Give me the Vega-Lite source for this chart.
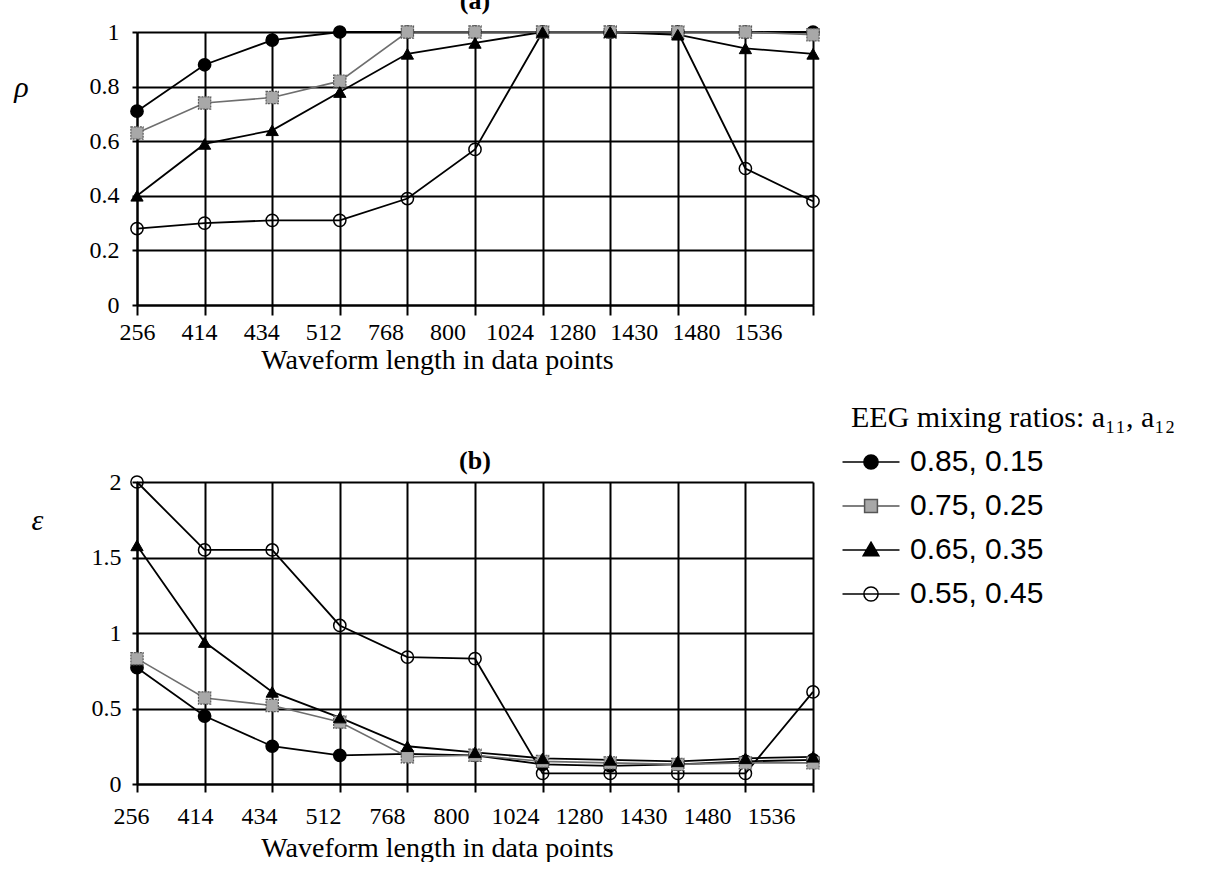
{
  "$schema": "https://vega.github.io/schema/vega-lite/v6.json",
  "background": "white",
  "padding": {"left": 13, "top": -12, "right": 360, "bottom": 0},
  "spacing": 74,
  "config": {
    "view": {"stroke": null},
    "font": "Liberation Serif",
    "axis": {
      "domainColor": "black", "domainWidth": 2,
      "gridColor": "black", "gridWidth": 2, "gridOpacity": 1,
      "tickColor": "black", "tickWidth": 2,
      "labelColor": "black", "titleColor": "black",
      "labelFont": "Liberation Serif", "titleFont": "Liberation Serif",
      "labelFontSize": 24, "titleFontWeight": "normal", "titleFontSize": 28,
      "labelOverlap": false
    },
    "title": {"font": "Liberation Serif", "fontSize": 26, "fontWeight": "bold", "color": "black"},
    "legend": {
      "orient": "none", "legendX": 714, "legendY": 371,
      "titleFont": "Liberation Serif", "titleFontSize": 30, "titleFontWeight": "normal", "titleColor": "black", "titlePadding": 14, "titleLimit": 500,
      "labelFont": "Liberation Sans", "labelFontSize": 30, "labelColor": "black", "labelOffset": 24,
      "symbolSize": 812, "symbolOffset": 5, "symbolOpacity": 1, "symbolStrokeWidth": 1.5, "rowPadding": 14
    }
  },
  "datasets": {
    "rho": [
      {"length": 256, "series": "0.85, 0.15", "value": 0.71},
      {"length": 414, "series": "0.85, 0.15", "value": 0.88},
      {"length": 434, "series": "0.85, 0.15", "value": 0.97},
      {"length": 512, "series": "0.85, 0.15", "value": 1.0},
      {"length": 768, "series": "0.85, 0.15", "value": 1.0},
      {"length": 800, "series": "0.85, 0.15", "value": 1.0},
      {"length": 1024, "series": "0.85, 0.15", "value": 1.0},
      {"length": 1280, "series": "0.85, 0.15", "value": 1.0},
      {"length": 1430, "series": "0.85, 0.15", "value": 1.0},
      {"length": 1480, "series": "0.85, 0.15", "value": 1.0},
      {"length": 1536, "series": "0.85, 0.15", "value": 1.0},
      {"length": 256, "series": "0.75, 0.25", "value": 0.63},
      {"length": 414, "series": "0.75, 0.25", "value": 0.74},
      {"length": 434, "series": "0.75, 0.25", "value": 0.76},
      {"length": 512, "series": "0.75, 0.25", "value": 0.82},
      {"length": 768, "series": "0.75, 0.25", "value": 1.0},
      {"length": 800, "series": "0.75, 0.25", "value": 1.0},
      {"length": 1024, "series": "0.75, 0.25", "value": 1.0},
      {"length": 1280, "series": "0.75, 0.25", "value": 1.0},
      {"length": 1430, "series": "0.75, 0.25", "value": 1.0},
      {"length": 1480, "series": "0.75, 0.25", "value": 1.0},
      {"length": 1536, "series": "0.75, 0.25", "value": 0.99},
      {"length": 256, "series": "0.65, 0.35", "value": 0.4},
      {"length": 414, "series": "0.65, 0.35", "value": 0.59},
      {"length": 434, "series": "0.65, 0.35", "value": 0.64},
      {"length": 512, "series": "0.65, 0.35", "value": 0.78},
      {"length": 768, "series": "0.65, 0.35", "value": 0.92},
      {"length": 800, "series": "0.65, 0.35", "value": 0.96},
      {"length": 1024, "series": "0.65, 0.35", "value": 1.0},
      {"length": 1280, "series": "0.65, 0.35", "value": 1.0},
      {"length": 1430, "series": "0.65, 0.35", "value": 0.99},
      {"length": 1480, "series": "0.65, 0.35", "value": 0.94},
      {"length": 1536, "series": "0.65, 0.35", "value": 0.92},
      {"length": 256, "series": "0.55, 0.45", "value": 0.28},
      {"length": 414, "series": "0.55, 0.45", "value": 0.3},
      {"length": 434, "series": "0.55, 0.45", "value": 0.31},
      {"length": 512, "series": "0.55, 0.45", "value": 0.31},
      {"length": 768, "series": "0.55, 0.45", "value": 0.39},
      {"length": 800, "series": "0.55, 0.45", "value": 0.57},
      {"length": 1024, "series": "0.55, 0.45", "value": 1.0},
      {"length": 1280, "series": "0.55, 0.45", "value": 1.0},
      {"length": 1430, "series": "0.55, 0.45", "value": 1.0},
      {"length": 1480, "series": "0.55, 0.45", "value": 0.5},
      {"length": 1536, "series": "0.55, 0.45", "value": 0.38}
    ],
    "eps": [
      {"length": 256, "series": "0.85, 0.15", "value": 0.77},
      {"length": 414, "series": "0.85, 0.15", "value": 0.45},
      {"length": 434, "series": "0.85, 0.15", "value": 0.25},
      {"length": 512, "series": "0.85, 0.15", "value": 0.19},
      {"length": 768, "series": "0.85, 0.15", "value": 0.2},
      {"length": 800, "series": "0.85, 0.15", "value": 0.19},
      {"length": 1024, "series": "0.85, 0.15", "value": 0.13},
      {"length": 1280, "series": "0.85, 0.15", "value": 0.12},
      {"length": 1430, "series": "0.85, 0.15", "value": 0.13},
      {"length": 1480, "series": "0.85, 0.15", "value": 0.15},
      {"length": 1536, "series": "0.85, 0.15", "value": 0.16},
      {"length": 256, "series": "0.75, 0.25", "value": 0.83},
      {"length": 414, "series": "0.75, 0.25", "value": 0.57},
      {"length": 434, "series": "0.75, 0.25", "value": 0.52},
      {"length": 512, "series": "0.75, 0.25", "value": 0.41},
      {"length": 768, "series": "0.75, 0.25", "value": 0.18},
      {"length": 800, "series": "0.75, 0.25", "value": 0.19},
      {"length": 1024, "series": "0.75, 0.25", "value": 0.15},
      {"length": 1280, "series": "0.75, 0.25", "value": 0.14},
      {"length": 1430, "series": "0.75, 0.25", "value": 0.13},
      {"length": 1480, "series": "0.75, 0.25", "value": 0.14},
      {"length": 1536, "series": "0.75, 0.25", "value": 0.14},
      {"length": 256, "series": "0.65, 0.35", "value": 1.58},
      {"length": 414, "series": "0.65, 0.35", "value": 0.94},
      {"length": 434, "series": "0.65, 0.35", "value": 0.61},
      {"length": 512, "series": "0.65, 0.35", "value": 0.44},
      {"length": 768, "series": "0.65, 0.35", "value": 0.25},
      {"length": 800, "series": "0.65, 0.35", "value": 0.21},
      {"length": 1024, "series": "0.65, 0.35", "value": 0.17},
      {"length": 1280, "series": "0.65, 0.35", "value": 0.16},
      {"length": 1430, "series": "0.65, 0.35", "value": 0.15},
      {"length": 1480, "series": "0.65, 0.35", "value": 0.17},
      {"length": 1536, "series": "0.65, 0.35", "value": 0.18},
      {"length": 256, "series": "0.55, 0.45", "value": 2.0},
      {"length": 414, "series": "0.55, 0.45", "value": 1.55},
      {"length": 434, "series": "0.55, 0.45", "value": 1.55},
      {"length": 512, "series": "0.55, 0.45", "value": 1.05},
      {"length": 768, "series": "0.55, 0.45", "value": 0.84},
      {"length": 800, "series": "0.55, 0.45", "value": 0.83},
      {"length": 1024, "series": "0.55, 0.45", "value": 0.07},
      {"length": 1280, "series": "0.55, 0.45", "value": 0.07},
      {"length": 1430, "series": "0.55, 0.45", "value": 0.07},
      {"length": 1480, "series": "0.55, 0.45", "value": 0.07},
      {"length": 1536, "series": "0.55, 0.45", "value": 0.61}
    ]
  },
  "vconcat": [
    {
      "width": 676,
      "height": 273,
      "title": {"text": "(a)", "offset": 6},
      "data": {"name": "rho"},
      "encoding": {
        "x": {
          "field": "length", "type": "ordinal",
          "scale": {"type": "point", "padding": 0},
          "axis": {
            "title": "Waveform length in data points",
            "labelAngle": 0, "grid": true, "tickSize": 10, "labelPadding": 5,
            "titlePadding": 2, "titleX": 300,
            "encoding": {"labels": {"dx": {"value": {"expr": "-55 * datum.index"}}}}
          }
        },
        "y": {
          "field": "value", "type": "quantitative",
          "scale": {"domain": [0, 1], "nice": false},
          "axis": {
            "values": [0, 0.2, 0.4, 0.6, 0.8, 1], "format": "~g", "grid": true,
            "tickSize": 5, "labelPadding": 13,
            "title": "ρ", "titleAngle": 0, "titleFontStyle": "italic", "titleFontSize": 30,
            "titleX": -116, "titleY": 55, "titleAlign": "center", "titleBaseline": "middle"
          }
        }
      },
      "layer": [
        {
          "transform": [{"filter": {"field": "series", "oneOf": ["0.85, 0.15", "0.65, 0.35", "0.55, 0.45"]}}],
          "mark": {"type": "line", "strokeWidth": 1.8, "color": "black"},
          "encoding": {"detail": {"field": "series"}}
        },
        {
          "transform": [{"filter": {"field": "series", "equal": "0.75, 0.25"}}],
          "mark": {"type": "line", "strokeWidth": 1.6, "color": "#6e6e6e"},
          "encoding": {}
        },
        {
          "transform": [{"filter": {"field": "series", "oneOf": ["0.85, 0.15", "0.55, 0.45"]}}],
          "mark": {"type": "point", "shape": "circle", "size": 150, "filled": true, "opacity": 1, "stroke": "black", "strokeWidth": 1.5},
          "encoding": {
            "fill": {"field": "series", "type": "nominal", "title": "EEG mixing ratios: a₁₁, a₁₂",
              "scale": {"domain": ["0.85, 0.15", "0.75, 0.25", "0.65, 0.35", "0.55, 0.45"], "range": ["black", "#a8a8a8", "black", "transparent"]}}
          }
        },
        {
          "transform": [{"filter": {"field": "series", "equal": "0.75, 0.25"}}],
          "mark": {"type": "point", "shape": "square", "size": 150, "filled": true, "opacity": 1, "stroke": "#5a5a5a", "strokeWidth": 1.2, "strokeDash": [2, 1]},
          "encoding": {
            "fill": {"field": "series", "type": "nominal", "title": "EEG mixing ratios: a₁₁, a₁₂",
              "scale": {"domain": ["0.85, 0.15", "0.75, 0.25", "0.65, 0.35", "0.55, 0.45"], "range": ["black", "#a8a8a8", "black", "transparent"]}}
          }
        },
        {
          "transform": [{"filter": {"field": "series", "equal": "0.65, 0.35"}}],
          "mark": {"type": "point", "shape": "triangle-up", "size": 150, "filled": true, "opacity": 1, "stroke": "black", "strokeWidth": 1},
          "encoding": {
            "fill": {"field": "series", "type": "nominal", "title": "EEG mixing ratios: a₁₁, a₁₂",
              "scale": {"domain": ["0.85, 0.15", "0.75, 0.25", "0.65, 0.35", "0.55, 0.45"], "range": ["black", "#a8a8a8", "black", "transparent"]}}
          }
        }
      ]
    },
    {
      "width": 676,
      "height": 302,
      "title": {"text": "(b)", "offset": -4},
      "data": {"name": "eps"},
      "encoding": {
        "x": {
          "field": "length", "type": "ordinal",
          "scale": {"type": "point", "padding": 0},
          "axis": {
            "title": "Waveform length in data points",
            "labelAngle": 0, "grid": true, "tickSize": 8, "labelPadding": 12,
            "titlePadding": 6, "titleX": 300,
            "encoding": {"labels": {"dx": {"value": {"expr": "-6 - 36 * datum.index"}}}}
          }
        },
        "y": {
          "field": "value", "type": "quantitative",
          "scale": {"domain": [0, 2], "nice": false},
          "axis": {
            "values": [0, 0.5, 1, 1.5, 2], "format": "~g", "grid": true,
            "tickSize": 5, "labelPadding": 11,
            "title": "ε", "titleAngle": 0, "titleFontStyle": "italic", "titleFontSize": 30,
            "titleX": -100, "titleY": 38, "titleAlign": "center", "titleBaseline": "middle"
          }
        }
      },
      "layer": [
        {
          "transform": [{"filter": {"field": "series", "oneOf": ["0.85, 0.15", "0.65, 0.35", "0.55, 0.45"]}}],
          "mark": {"type": "line", "strokeWidth": 1.8, "color": "black"},
          "encoding": {"detail": {"field": "series"}}
        },
        {
          "transform": [{"filter": {"field": "series", "equal": "0.75, 0.25"}}],
          "mark": {"type": "line", "strokeWidth": 1.6, "color": "#6e6e6e"},
          "encoding": {}
        },
        {
          "transform": [{"filter": {"field": "series", "oneOf": ["0.85, 0.15", "0.55, 0.45"]}}],
          "mark": {"type": "point", "shape": "circle", "size": 150, "filled": true, "opacity": 1, "stroke": "black", "strokeWidth": 1.5},
          "encoding": {
            "fill": {"field": "series", "type": "nominal", "title": "EEG mixing ratios: a₁₁, a₁₂",
              "scale": {"domain": ["0.85, 0.15", "0.75, 0.25", "0.65, 0.35", "0.55, 0.45"], "range": ["black", "#a8a8a8", "black", "transparent"]}}
          }
        },
        {
          "transform": [{"filter": {"field": "series", "equal": "0.75, 0.25"}}],
          "mark": {"type": "point", "shape": "square", "size": 150, "filled": true, "opacity": 1, "stroke": "#5a5a5a", "strokeWidth": 1.2, "strokeDash": [2, 1]},
          "encoding": {
            "fill": {"field": "series", "type": "nominal", "title": "EEG mixing ratios: a₁₁, a₁₂",
              "scale": {"domain": ["0.85, 0.15", "0.75, 0.25", "0.65, 0.35", "0.55, 0.45"], "range": ["black", "#a8a8a8", "black", "transparent"]}}
          }
        },
        {
          "transform": [{"filter": {"field": "series", "equal": "0.65, 0.35"}}],
          "mark": {"type": "point", "shape": "triangle-up", "size": 150, "filled": true, "opacity": 1, "stroke": "black", "strokeWidth": 1},
          "encoding": {
            "fill": {"field": "series", "type": "nominal", "title": "EEG mixing ratios: a₁₁, a₁₂",
              "scale": {"domain": ["0.85, 0.15", "0.75, 0.25", "0.65, 0.35", "0.55, 0.45"], "range": ["black", "#a8a8a8", "black", "transparent"]}}
          }
        },
        {
          "transform": [{"filter": "false"}],
          "mark": {"type": "point", "size": 812, "filled": true, "strokeWidth": 1.5},
          "encoding": {
            "shape": {"field": "series", "type": "nominal", "title": "EEG mixing ratios: a₁₁, a₁₂",
              "scale": {"domain": ["0.85, 0.15", "0.75, 0.25", "0.65, 0.35", "0.55, 0.45"],
                "range": [
                  "M-2,0H-0.5M0.5,0H2M-0.5,0A0.5,0.5,0,1,1,0.5,0A0.5,0.5,0,1,1,-0.5,0Z",
                  "M-2,0H-0.45M0.45,0H2M-0.45,-0.45H0.45V0.45H-0.45Z",
                  "M-2,0H-0.3M0.3,0H2M0,-0.55L0.55,0.4H-0.55Z",
                  "M-2,0H2M-0.5,0A0.5,0.5,0,1,1,0.5,0A0.5,0.5,0,1,1,-0.5,0Z"
                ]}
            },
            "fill": {"field": "series", "type": "nominal", "title": "EEG mixing ratios: a₁₁, a₁₂",
              "scale": {"domain": ["0.85, 0.15", "0.75, 0.25", "0.65, 0.35", "0.55, 0.45"], "range": ["black", "#a8a8a8", "black", "transparent"]}},
            "stroke": {"field": "series", "type": "nominal", "title": "EEG mixing ratios: a₁₁, a₁₂",
              "scale": {"domain": ["0.85, 0.15", "0.75, 0.25", "0.65, 0.35", "0.55, 0.45"], "range": ["black", "#555555", "black", "black"]}}
          }
        }
      ]
    }
  ]
}
